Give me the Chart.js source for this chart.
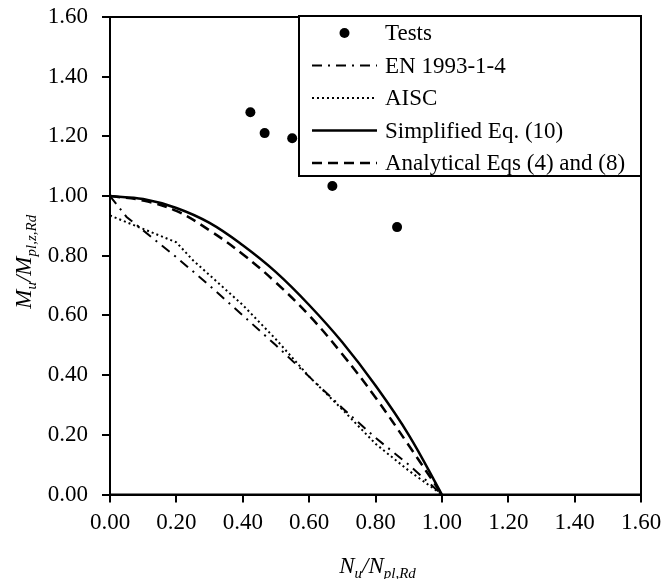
<!DOCTYPE html>
<html>
<head>
<meta charset="utf-8">
<script src="https://cdn.jsdelivr.net/npm/chart.js@4.4.0/dist/chart.umd.min.js"></script>
<style>
    html, body { margin: 0; padding: 0; background: #fff; }
    #wrap { width: 665px; height: 579px; }
</style>
</head>
<body>
<div id="wrap"><canvas id="interactionChart" width="665" height="579"></canvas></div>
<script>
// Axis ticks
const tickValues = [0, 0.2, 0.4, 0.6, 0.8, 1.0, 1.2, 1.4, 1.6];

// Tests
const nTests = [0.423, 0.466, 0.549, 0.670, 0.865];
const mTests = [1.281, 1.211, 1.194, 1.034, 0.896];

// EN 1993-1-4
const nEN = [0, 0.05, 0.1, 0.2, 0.3, 0.4, 0.5, 0.6, 0.7, 0.8, 0.9, 1.0];
const mEN = [1.0, 0.93, 0.885, 0.795, 0.70, 0.60, 0.50, 0.395, 0.29, 0.19, 0.10, 0.0];

// AISC
const nAISC = [0, 0.1, 0.2, 0.25, 0.3, 0.4, 0.5, 0.6, 0.7, 0.8, 0.9, 1.0];
const mAISC = [0.935, 0.89, 0.845, 0.785, 0.735, 0.635, 0.52, 0.395, 0.285, 0.17, 0.08, 0.0];

// Simplified Eq. (10)
const nSimpl = [0, 0.1, 0.2, 0.3, 0.4, 0.5, 0.6, 0.7, 0.8, 0.9, 1.0];
const mSimpl = [1.0, 0.99, 0.96, 0.91, 0.835, 0.745, 0.635, 0.51, 0.365, 0.20, 0.0];

// Analytical Eqs (4) and (8)
const nAnal = [0, 0.1, 0.2, 0.3, 0.4, 0.5, 0.6, 0.7, 0.8, 0.9, 1.0];
const mAnal = [1.0, 0.985, 0.95, 0.885, 0.805, 0.71, 0.60, 0.47, 0.325, 0.165, 0.0];

const FONT = "'Liberation Serif', 'Times New Roman', serif";

function pts(xs, ys) {
    return xs.map((x, i) => ({ x: x, y: ys[i] }));
}

// frame round the plot + boxed legend in the top right corner
const frameAndLegend = {
    id: 'frameAndLegend',
    afterDatasetsDraw(chart) {
        const { ctx, chartArea: a } = chart;
        ctx.save();
        ctx.strokeStyle = '#000';
        ctx.lineWidth = 2;
        ctx.strokeRect(a.left, a.top, a.right - a.left, a.bottom - a.top);

        // legend box
        const bx = a.right - 342, by = a.top - 1, bw = 342, bh = 160;
        ctx.fillStyle = '#fff';
        ctx.fillRect(bx, by, bw, bh);
        ctx.strokeRect(bx, by, bw, bh);

        const x0 = bx + 13, x1 = bx + 78, textX = bx + 86;
        ctx.font = '23px ' + FONT;
        ctx.textBaseline = 'middle';
        ctx.textAlign = 'left';
        chart.data.datasets.forEach((ds, i) => {
            const y = by + 17 + i * 32.5;
            ctx.strokeStyle = '#000';
            ctx.fillStyle = '#000';
            if (ds.showLine) {
                ctx.lineWidth = ds.borderWidth;
                ctx.setLineDash(ds.borderDash || []);
                ctx.beginPath();
                ctx.moveTo(x0, y);
                ctx.lineTo(x1, y);
                ctx.stroke();
                ctx.setLineDash([]);
            } else {
                ctx.beginPath();
                ctx.arc((x0 + x1) / 2, y, ds.pointRadius, 0, Math.PI * 2);
                ctx.fill();
            }
            ctx.fillText(ds.label, textX, y + 1);
        });
        ctx.restore();
    }
};

// axis titles with subscripts
function drawSubText(ctx, parts, cx, baseY) {
    const big = 'italic 23px ' + FONT;
    const small = 'italic 15px ' + FONT;
    let w = 0;
    parts.forEach(p => { ctx.font = p[1] ? small : big; w += ctx.measureText(p[0]).width; });
    let x = cx - w / 2;
    parts.forEach(p => {
        ctx.font = p[1] ? small : big;
        ctx.fillText(p[0], x, baseY + (p[1] ? 5 : 0));
        x += ctx.measureText(p[0]).width;
    });
}

const axisTitles = {
    id: 'axisTitles',
    afterDraw(chart) {
        const { ctx, chartArea: a } = chart;
        ctx.save();
        ctx.fillStyle = '#000';
        ctx.textBaseline = 'alphabetic';
        ctx.textAlign = 'left';
        drawSubText(ctx, [['N', false], ['u', true], ['/N', false], ['pl,Rd', true]], (a.left + a.right) / 2 + 2, 573);
        ctx.translate(31, (a.top + a.bottom) / 2 + 6);
        ctx.rotate(-Math.PI / 2);
        drawSubText(ctx, [['M', false], ['u', true], ['/M', false], ['pl,z,Rd', true]], 0, 0);
        ctx.restore();
    }
};

const axisStyle = (padding) => ({
    type: 'linear',
    min: 0,
    max: 1.6,
    afterBuildTicks: (scale) => { scale.ticks = tickValues.map(v => ({ value: v })); },
    ticks: {
        color: '#000',
        padding: padding,
        font: { family: FONT, size: 23 },
        callback: (v) => Number(v).toFixed(2)
    },
    grid: {
        display: true,
        drawOnChartArea: false,
        drawTicks: true,
        tickLength: 8,
        color: '#000',
        lineWidth: 2
    },
    border: { display: true, color: '#000', width: 2 },
    title: { display: false }
});

// fixed plot box: left 110, right 641, top 17, bottom 494.5
const xAxis = axisStyle(7);
xAxis.afterFit = (s) => { s.height = 84.5; s.paddingLeft = 0; s.paddingRight = 0; };
const yAxis = axisStyle(14);
yAxis.afterFit = (s) => { s.width = 110; s.paddingTop = 0; s.paddingBottom = 0; };

new Chart(document.getElementById('interactionChart').getContext('2d'), {
    type: 'scatter',
    data: {
        datasets: [
            {
                label: 'Tests',
                data: pts(nTests, mTests),
                showLine: false,
                pointRadius: 5,
                pointBackgroundColor: '#000',
                pointBorderColor: '#000',
                borderWidth: 0
            },
            {
                label: 'EN 1993-1-4',
                data: pts(nEN, mEN),
                showLine: true,
                borderColor: '#000',
                borderWidth: 2,
                borderDash: [10, 6, 2, 6],
                pointRadius: 0,
                tension: 0
            },
            {
                label: 'AISC',
                data: pts(nAISC, mAISC),
                showLine: true,
                borderColor: '#000',
                borderWidth: 2,
                borderDash: [2, 3],
                pointRadius: 0,
                tension: 0
            },
            {
                label: 'Simplified Eq. (10)',
                data: pts(nSimpl, mSimpl),
                showLine: true,
                borderColor: '#000',
                borderWidth: 2.5,
                pointRadius: 0,
                tension: 0.4
            },
            {
                label: 'Analytical Eqs (4) and (8)',
                data: pts(nAnal, mAnal),
                showLine: true,
                borderColor: '#000',
                borderWidth: 2.5,
                borderDash: [10, 6],
                pointRadius: 0,
                tension: 0.4
            }
        ]
    },
    options: {
        responsive: false,
        animation: false,
        layout: { padding: { left: 0, right: 24, top: 17, bottom: 0 } },
        plugins: {
            legend: { display: false },
            tooltip: { enabled: false }
        },
        scales: {
            x: xAxis,
            y: yAxis
        }
    },
    plugins: [frameAndLegend, axisTitles]
});
</script>
</body>
</html>
